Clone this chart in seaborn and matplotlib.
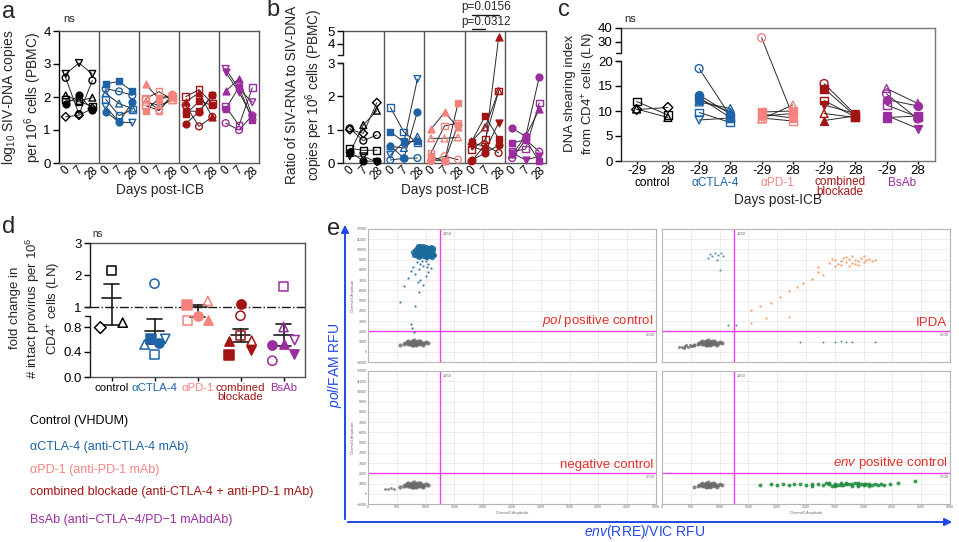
import numpy as np
import pandas as pd
import matplotlib
matplotlib.use("Agg")
import matplotlib.pyplot as plt
import seaborn as sns
from matplotlib.transforms import blended_transform_factory
from matplotlib.patches import FancyArrowPatch

sns.set_theme(style="ticks")
plt.rcParams["font.family"] = ["Liberation Sans", "DejaVu Sans"]
plt.rcParams.update({
    "mathtext.fontset": "custom",
    "mathtext.rm": "Liberation Sans",
    "mathtext.it": "Liberation Sans:italic",
    "mathtext.bf": "Liberation Sans:bold",
    "axes.linewidth": 1.0,
    "axes.edgecolor": "black",
    "xtick.color": "black",
    "ytick.color": "black",
})

# ---------------------------------------------------------------- data
GROUPS = ["control", "αCTLA-4", "αPD-1", "combined\nblockade", "BsAb"]
GROUP_COLORS = ["#000000", "#1d63a6", "#f4837d", "#a31414", "#9b2d9f"]
DAY_LABELS = ["0", "7", "28"]
DAY_LABELS_C = ["-29", "28"]

# panel a : log10 SIV-DNA copies (days 0, 7, 28)
A_MARKERS = [
    ["v_o", "o_o", "^_o", "s_o", "o_f", "D_o"],
    ["s_f", "o_o", "^_o", "s_o", "v_o", "o_f"],
    ["^_f", "o_o", "s_o", "s_o", "s_f", "^_o"],
    ["s_o", "^_f", "s_f", "s_f", "o_f", "o_o"],
    ["v_o", "v_f", "^_f", "s_o", "s_f", "o_o"],
]
A_VALUES = [
    [[2.70, 3.03, 2.70], [2.58, 1.48, 2.50], [2.05, 1.88, 1.98], [1.92, 1.86, 1.72], [1.78, 2.05, 1.62], [1.40, 1.45, 1.65]],
    [[2.40, 2.47, 2.17], [2.25, 2.17, 2.05], [2.11, 1.80, 1.65], [1.93, 1.44, 1.62], [1.71, 1.24, 1.22], [1.56, 1.24, 1.84]],
    [[2.38, 1.95, 2.00], [1.92, 1.60, 2.07], [1.95, 2.16, 1.92], [1.74, 1.59, 2.02], [1.57, 1.97, 2.05], [1.85, 1.75, 1.90]],
    [[2.01, 2.22, 1.80], [1.85, 2.13, 1.39], [1.57, 1.57, 2.05], [1.47, 1.87, 1.75], [1.19, 1.55, 2.05], [1.75, 1.11, 1.40]],
    [[2.85, 2.25, 1.84], [2.75, 2.15, 1.38], [2.17, 2.56, 1.42], [1.71, 1.14, 2.28], [1.64, 2.30, 1.30], [1.21, 1.00, 1.44]],
]

# panel b : ratio SIV-RNA / SIV-DNA (days 0, 7, 28)
B_MARKERS = [
    ["D_o", "^_o", "o_o", "s_o", "v_o", "o_f"],
    ["s_o", "s_f", "o_f", "v_o", "o_o", "^_o"],
    ["^_f", "^_o", "s_o", "s_f", "o_o", "o_f"],
    ["^_f", "s_o", "s_f", "^_o", "o_f", "o_o", "v_f"],
    ["o_f", "s_f", "s_o", "^_f", "o_o", "v_f"],
]
B_VALUES = [
    [[1.00, 0.89, 1.81], [0.30, 1.14, 1.57], [1.04, 0.67, 0.84], [0.44, 0.38, 0.38], [0.21, 0.20, 0.03], [0.34, 0.06, 0.05]],
    [[1.67, 0.93, 0.60], [0.94, 0.63, 0.65], [0.52, 0.14, 1.54], [0.24, 0.63, 2.52], [0.09, 0.14, 0.15], [0.50, 0.45, 0.79]],
    [[1.01, 1.52, 1.07], [0.74, 0.74, 0.77], [0.30, 1.11, 1.20], [0.20, 0.05, 1.80], [0.06, 0.20, 0.10], [0.10, 0.05, 1.15]],
    [[0.60, 0.50, 4.50], [0.40, 0.70, 2.16], [0.64, 1.41, 0.73], [0.65, 1.07, 2.16], [0.08, 0.30, 0.53], [0.05, 0.55, 0.30], [0.50, 0.36, 1.21]],
    [[1.04, 0.80, 2.58], [0.60, 0.70, 0.05], [0.34, 0.42, 1.80], [0.26, 0.80, 1.61], [0.15, 0.70, 0.34], [0.30, 0.09, 0.20]],
]
B_PVALUES = ["p=0.0156", "p=0.0312"]

# panel c : DNA shearing index (days -29, 28)
C_MARKERS = [
    ["s_o", "^_o", "D_o"],
    ["o_o", "o_f", "s_f", "^_f", "^_o", "s_o", "v_o"],
    ["o_o", "s_f", "^_f", "^_o", "o_f", "s_o"],
    ["o_o", "s_f", "s_o", "v_f", "^_o", "^_f"],
    ["^_o", "o_o", "o_f", "s_o", "v_f", "s_f"],
]
C_VALUES = [
    [[11.9, 9.2], [10.4, 8.7], [10.3, 10.7]],
    [[18.5, 9.0], [13.2, 9.4], [12.7, 8.7], [12.3, 9.8], [11.8, 10.5], [9.7, 7.7], [8.2, 8.6]],
    [[33.0, 9.0], [9.8, 10.0], [9.4, 8.6], [8.4, 11.2], [9.0, 9.5], [8.6, 8.0]],
    [[15.5, 9.3], [14.5, 9.0], [12.1, 8.8], [11.2, 9.5], [9.5, 8.7], [8.1, 9.0]],
    [[14.5, 11.5], [13.4, 8.4], [12.3, 11.0], [11.2, 8.8], [9.1, 6.5], [8.7, 9.0]],
]

# panel d : fold change in intact provirus
D_MARKERS = [
    ["s_o", "D_o", "^_o"],
    ["o_o", "s_f", "o_f", "^_o", "v_o", "s_o"],
    ["s_f", "^_o", "o_f", "^_f", "s_o"],
    ["o_f", "o_o", "s_o", "^_f", "^_o", "v_f", "s_f"],
    ["s_o", "^_o", "^_f", "v_o", "o_f", "v_f", "o_o"],
]
D_VALUES = [
    [2.15, 0.79, 0.87],
    [1.73, 0.61, 0.55, 0.52, 0.61, 0.36],
    [1.05, 1.19, 0.98, 0.91, 0.90],
    [1.08, 0.98, 0.66, 0.58, 0.58, 0.43, 0.36],
    [1.63, 0.80, 0.53, 0.59, 0.51, 0.37, 0.26],
]
# horizontal dodge of the scatter points (layout only)
D_DODGE = [
    [0, -0.26, 0.26],
    [0, -0.08, 0.10, -0.23, 0.25, 0],
    [-0.24, 0.24, 0, 0.25, -0.24],
    [0, 0, 0, -0.26, 0.26, 0.25, -0.26],
    [0, 0, 0, 0.26, -0.26, 0.25, -0.26],
]

LEGEND_TEXT = [
    "Control (VHDUM)",
    "αCTLA-4 (anti-CTLA-4 mAb)",
    "αPD-1 (anti-PD-1 mAb)",
    "combined blockade (anti-CTLA-4 + anti-PD-1 mAb)",
    "BsAb (anti\u2212CTLA\u22124/PD\u22121 mAbdAb)",
]

# panel e : ddPCR droplets (Channel2 amplitude, Channel1 amplitude)
POLPOS_FAM = [(820, 9900), (850, 10100), (880, 9800), (900, 10000), (920, 10200), (940, 9700), (960, 9900),
              (980, 10100), (1000, 9800), (1020, 9600), (1040, 9900), (1060, 9700), (1080, 9500), (1100, 9800),
              (1120, 9600), (870, 9600), (910, 9500), (950, 9400), (990, 9500), (1030, 9300), (1070, 9400),
              (1110, 9300), (840, 9700), (860, 10300), (900, 10350), (960, 10300), (1000, 10200), (1040, 10100),
              (1080, 10000), (1130, 9900), (930, 9900), (970, 9650), (1010, 10000), (1050, 9500), (890, 9300),
              (1000, 9250), (780, 9800), (800, 9500), (1150, 9500), (1090, 10200), (950, 10000), (1000, 9600),
              (900, 9700), (1060, 10000), (1120, 10100), (850, 9400)]
POLPOS_TAIL = [(850, 8800), (900, 8600), (1000, 8900), (780, 8300), (880, 8100), (950, 8400), (1050, 8600),
               (700, 7200), (820, 7600), (900, 7000), (1000, 7400), (860, 6800), (950, 6500), (1050, 7800),
               (620, 6400), (560, 4900), (820, 4500), (880, 5800), (750, 2700), (760, 2300), (800, 1950),
               (740, 7900), (1100, 8200), (940, 8900), (1020, 8300)]
NEG_CLUSTER = [(620, 800), (650, 900), (680, 1000), (700, 750), (720, 850), (740, 950), (760, 1050), (780, 700),
               (800, 800), (820, 900), (840, 1000), (860, 750), (880, 850), (900, 950), (920, 800), (940, 900),
               (960, 700), (980, 850), (700, 1100), (760, 650), (840, 650), (900, 1100), (1000, 950), (560, 700),
               (1050, 900), (800, 1150), (730, 780), (790, 950), (850, 880), (870, 1050), (760, 880), (830, 780)]
IPDA_GRAY_TAIL = [(300, 450), (350, 500), (400, 550), (450, 500), (500, 600), (550, 650), (380, 400), (480, 700),
                  (420, 620), (520, 520)]
IPDA_FAM = [(830, 9600), (870, 9400), (920, 9700), (970, 9500), (1020, 9650), (1060, 9400), (800, 9200),
            (950, 9000), (1000, 8000), (1150, 2600), (1280, 2600)]
IPDA_DOUBLE = [(2900, 8700), (3000, 9000), (3050, 8600), (3100, 8900), (3150, 9200), (3200, 8800), (3250, 9100),
               (3300, 8700), (3350, 9000), (3400, 8900), (3450, 9200), (3500, 8800), (3550, 9000), (3600, 9100),
               (3650, 8900), (3700, 9000), (3200, 9300), (3300, 9350), (3100, 8500), (3000, 8400), (3400, 8500),
               (3500, 9350), (3250, 8400), (2950, 9100), (3350, 8600), (2700, 7800), (2600, 7100), (2450, 6700),
               (2350, 6300), (2200, 5900), (2050, 5400), (1900, 4800), (1700, 4500), (1550, 4100), (1800, 3300),
               (2200, 3400), (1550, 2800), (2700, 8300), (2800, 7500)]
IPDA_VIC = [(2400, 950), (2800, 1000), (3000, 980), (3100, 1050), (3200, 950), (3300, 1000), (3700, 1000)]
ENVPOS_VIC = [(1700, 900), (1900, 950), (2000, 850), (2100, 1000), (2200, 900), (2300, 950), (2400, 1000),
              (2500, 900), (2600, 950), (2700, 1000), (2800, 850), (2850, 1050), (2900, 950), (2950, 800),
              (3000, 1000), (3050, 900), (3100, 1050), (3150, 850), (3200, 950), (3250, 1000), (3300, 800),
              (3350, 1050), (3400, 900), (3450, 1000), (3500, 850), (3550, 950), (3600, 1000), (3650, 900),
              (3700, 950), (3750, 850), (3800, 1000), (3850, 900), (3950, 950), (4100, 1100), (4400, 1200),
              (2600, 800), (3000, 750), (3400, 750), (3200, 1100), (2900, 1100), (3600, 800), (3100, 900),
              (3300, 920), (3500, 1000), (3000, 880), (3400, 1080)]

# ---------------------------------------------------------------- helpers
W, H = 959, 542
fig = plt.figure(figsize=(W / 100, H / 100), dpi=100)


def px_axes(x0, y0, x1, y1):
    return fig.add_axes([x0 / W, 1 - y1 / H, (x1 - x0) / W, (y1 - y0) / H])


def ftext(x, y, s, **kw):
    fig.text(x / W, 1 - y / H, s, **kw)


def scatter_marker(ax, xs, ys, code, color, size, lw=1.0):
    m, f = code.split("_")
    s = size * (0.8 if m == "D" else 1.0)
    if f == "f":
        sns.scatterplot(x=xs, y=ys, ax=ax, marker=m, s=s, color=color, edgecolor=color,
                        linewidth=lw, zorder=4, legend=False, clip_on=False)
    else:
        sns.scatterplot(x=xs, y=ys, ax=ax, marker=m, s=s, facecolor="none", edgecolor=color,
                        linewidth=lw, zorder=4, legend=False, clip_on=False)


def broken_scale(ax, kv, kp):
    kv = np.asarray(kv, float)
    kp = np.asarray(kp, float)
    s0 = (kp[1] - kp[0]) / (kv[1] - kv[0])
    s1 = (kp[-1] - kp[-2]) / (kv[-1] - kv[-2])
    kv2 = np.concatenate([[kv[0] - 1e4], kv, [kv[-1] + 1e4]])
    kp2 = np.concatenate([[kp[0] - 1e4 * s0], kp, [kp[-1] + 1e4 * s1]])
    ax.set_yscale("function", functions=(lambda v: np.interp(v, kv2, kp2),
                                         lambda p: np.interp(p, kp2, kv2)))


def broken_left_spine(ax, lo_top, hi_bot, ymin, ymax, width_px):
    ax.spines["left"].set_visible(False)
    tr = blended_transform_factory(ax.transAxes, ax.transData)
    cap = 5.0 / width_px
    ax.plot([0, 0], [ymin, lo_top], transform=tr, color="k", lw=1, clip_on=False, zorder=5)
    ax.plot([0, 0], [hi_bot, ymax], transform=tr, color="k", lw=1, clip_on=False, zorder=5)
    ax.plot([-cap, 0], [lo_top, lo_top], transform=tr, color="k", lw=1, clip_on=False, zorder=5)
    ax.plot([-cap, 0], [hi_bot, hi_bot], transform=tr, color="k", lw=1, clip_on=False, zorder=5)


def style_box(ax, edge="#555555"):
    for k in ["top", "right", "bottom"]:
        ax.spines[k].set_color(edge)
        ax.spines[k].set_linewidth(1.0)
    ax.spines["left"].set_color("black")
    ax.tick_params(axis="y", direction="out", length=4, width=1, labelsize=9.5, pad=2)
    ax.set_xlabel("")
    ax.set_ylabel("")


def draw_days(ax, values, markers, size):
    rows = []
    for g, gv in enumerate(values):
        for a, v in enumerate(gv):
            for k, y in enumerate(v):
                rows.append(dict(uid=f"{g}-{a}", x=3 * g + 0.5 + k, y=y))
    df = pd.DataFrame(rows)
    sns.lineplot(data=df, x="x", y="y", units="uid", estimator=None, color="#2a2a2a",
                 lw=0.7, ax=ax, legend=False, sort=False, zorder=3)
    for g, gv in enumerate(values):
        for a, v in enumerate(gv):
            xs = [3 * g + 0.5 + k for k in range(len(v))]
            scatter_marker(ax, xs, v, markers[g][a], GROUP_COLORS[g], size)
    ax.set_xlim(0, 15)
    for d in [3, 6, 9, 12]:
        ax.axvline(d, color="#555555", lw=1, zorder=2)
    ax.set_xticks([3 * g + 0.5 + k for g in range(5) for k in range(3)])
    ax.set_xticklabels(DAY_LABELS * 5, rotation=45, fontsize=8.5)
    ax.tick_params(axis="x", length=0, pad=1)


# ---------------------------------------------------------------- panel a
axa = px_axes(59, 31, 259, 163)
draw_days(axa, A_VALUES, A_MARKERS, 24)
axa.set_ylim(0, 4)
axa.set_yticks([0, 1, 2, 3, 4])
style_box(axa)
for lab in axa.get_xticklabels():
    lab.set_ha("center")

# ---------------------------------------------------------------- panel b
axb = px_axes(343, 31, 546, 163)
broken_scale(axb, [0, 3, 3.15, 5], [0, 100, 108, 132])
draw_days(axb, B_VALUES, B_MARKERS, 24)
axb.set_ylim(0, 5)
axb.set_yticks([0, 1, 2, 3, 4, 5])
axb.set_yticklabels(["0", "1", "2", "3", "4", "5"])
style_box(axb)
for lab in axb.get_xticklabels():
    lab.set_ha("center")
broken_left_spine(axb, 3.0, 3.15, 0, 5, 203)
trb = blended_transform_factory(axb.transData, axb.transAxes)
axb.plot([9.5, 11.5], [1.121, 1.121], transform=trb, color="k", lw=1, clip_on=False)
axb.plot([9.5, 10.5], [1.015, 1.015], transform=trb, color="k", lw=1, clip_on=False)
axb.text(10.6, 1.185, B_PVALUES[0], transform=trb, ha="center", va="center", fontsize=8.5)
axb.text(10.6, 1.07, B_PVALUES[1], transform=trb, ha="center", va="center", fontsize=8.5)

# ---------------------------------------------------------------- panel c
axc = px_axes(621, 28, 935, 161)
broken_scale(axc, [0, 20, 22, 40], [0, 100, 108, 133])
rows = []
for g, gv in enumerate(C_VALUES):
    for a, v in enumerate(gv):
        for k, y in enumerate(v):
            rows.append(dict(uid=f"{g}-{a}", x=2 * g + k, y=y))
dfc = pd.DataFrame(rows)
sns.lineplot(data=dfc, x="x", y="y", units="uid", estimator=None, color="#2a2a2a",
             lw=0.7, ax=axc, legend=False, sort=False, zorder=3)
for g, gv in enumerate(C_VALUES):
    for a, v in enumerate(gv):
        scatter_marker(axc, [2 * g, 2 * g + 1], v, C_MARKERS[g][a], GROUP_COLORS[g], 32)
axc.set_xlim(-0.5, 9.55)
axc.set_ylim(0, 40)
axc.set_yticks([0, 5, 10, 15, 20, 30, 40])
axc.set_yticklabels(["0", "5", "10", "15", "20", "30", "40"])
axc.set_xticks(range(10))
axc.set_xticklabels(DAY_LABELS_C * 5, fontsize=9.5)
style_box(axc, edge="#777777")
axc.tick_params(axis="x", direction="out", length=2.5, width=1, pad=0.5, labelsize=9.5)
broken_left_spine(axc, 20, 22, 0, 40, 314)
trc = blended_transform_factory(axc.transData, axc.transAxes)
for g, name in enumerate(GROUPS):
    ypx = 21.5 if "\n" not in name else 26.0
    axc.text(2 * g + 0.5, -ypx / 133, name, transform=trc, ha="center", va="center",
             fontsize=8.5, color=GROUP_COLORS[g], linespacing=0.88)

# ---------------------------------------------------------------- panel d
axd = px_axes(90, 243, 305, 377)
broken_scale(axd, [0, 0.98, 1.0, 3], [0, 61.25, 70, 134])
for g, gv in enumerate(D_VALUES):
    vals = np.asarray(gv)
    m = vals.mean()
    sem = vals.std(ddof=1) / np.sqrt(len(vals))
    axd.plot([g - 0.22, g + 0.22], [m, m], color="k", lw=1.2, zorder=3)
    axd.plot([g - 0.17, g + 0.17], [m + sem, m + sem], color="k", lw=1.2, zorder=3)
    axd.plot([g - 0.17, g + 0.17], [m - sem, m - sem], color="k", lw=1.2, zorder=3)
    axd.plot([g, g], [m - sem, m + sem], color="k", lw=1.2, zorder=3)
    for a, v in enumerate(gv):
        scatter_marker(axd, [g + D_DODGE[g][a]], [v], D_MARKERS[g][a], GROUP_COLORS[g], 44, lw=1.1)
axd.axhline(1.0, color="k", lw=1, ls="-.", zorder=2)
axd.set_xlim(-0.5, 4.5)
axd.set_ylim(0, 3)
axd.set_yticks([0, 0.4, 0.8, 1, 2, 3])
axd.set_yticklabels(["0.0", "0.4", "0.8", "1", "2", "3"])
axd.set_xticks(range(5))
axd.set_xticklabels(GROUPS, fontsize=8.2, linespacing=0.9)
for g, lab in enumerate(axd.get_xticklabels()):
    lab.set_color(GROUP_COLORS[g])
style_box(axd, edge="#555555")
axd.tick_params(axis="x", direction="out", length=3, width=1, pad=1.5)
broken_left_spine(axd, 0.98, 1.0, 0, 3, 215)

# ---------------------------------------------------------------- panel e
E_BOXES = [(368, 229, 656, 362), (662, 229, 950, 362), (368, 371, 656, 504), (662, 371, 950, 504)]
E_TITLES = [r"$\it{pol}$ positive control", "IPDA", "negative control", r"$\it{env}$ positive control"]
BLUE_D, GRAY_D, ORANGE_D, GREEN_D = "#1b6a9c", "#6a6a6a", "#f59a5e", "#1a8a3c"


def droplets(ax, pts, color, s, alpha=0.85):
    arr = np.asarray(pts, float)
    sns.scatterplot(x=arr[:, 0], y=arr[:, 1], ax=ax, s=s, color=color, linewidth=0,
                    alpha=alpha, legend=False, zorder=3)


for i, box in enumerate(E_BOXES):
    ax = px_axes(*box)
    ax.set_xlim(0, 5000)
    ax.set_ylim(-1000, 12000)
    ax.set_xticks(np.arange(0, 5001, 500))
    ax.set_yticks(np.arange(-1000, 12001, 1000))
    ax.grid(True, color="#e6e6e6", lw=0.5)
    ax.tick_params(labelsize=2.6, length=0, pad=1, colors="#666666")
    for sp in ax.spines.values():
        sp.set_color("#b5b5b5")
        sp.set_linewidth(0.8)
    if i in (0, 2):
        ax.set_ylabel("Channel1 Amplitude", fontsize=2.6, color="#666666", labelpad=1)
    else:
        ax.set_yticklabels([])
    if i in (2, 3):
        ax.set_xlabel("Channel2 Amplitude", fontsize=2.6, color="#666666", labelpad=1)
    else:
        ax.set_xticklabels([])
    ax.axvline(1250, color="#f23cf0", lw=1, zorder=2)
    ax.axhline(2000, color="#f23cf0", lw=1, zorder=2)
    ax.text(1290, 11500, "1250", fontsize=3, color="#666666", va="center")
    ax.text(4980, 1650, "2000", fontsize=3, color="#666666", ha="right", va="center")
    ax.text(4950, 2250, E_TITLES[i], fontsize=9.5, color="#e3302a", ha="right", va="bottom")
    if i == 0:
        droplets(ax, NEG_CLUSTER, GRAY_D, 9, 0.8)
        droplets(ax, POLPOS_TAIL, BLUE_D, 2.5)
        droplets(ax, POLPOS_FAM, BLUE_D, 14, 0.9)
    elif i == 1:
        droplets(ax, NEG_CLUSTER, GRAY_D, 9, 0.8)
        droplets(ax, IPDA_GRAY_TAIL, GRAY_D, 5, 0.8)
        droplets(ax, IPDA_FAM, "#4a8bb5", 2.5)
        droplets(ax, IPDA_DOUBLE, ORANGE_D, 3)
        droplets(ax, IPDA_VIC, GREEN_D, 1.8)
    elif i == 2:
        droplets(ax, NEG_CLUSTER, GRAY_D, 10, 0.8)
        droplets(ax, IPDA_GRAY_TAIL[:4], GRAY_D, 4, 0.8)
    else:
        droplets(ax, NEG_CLUSTER, GRAY_D, 8, 0.8)
        droplets(ax, ENVPOS_VIC, GREEN_D, 8, 0.85)

ARROW_BLUE = "#2048e8"
fig.patches.append(FancyArrowPatch((345 / W, 1 - 522 / H), (345 / W, 1 - 222 / H), transform=fig.transFigure,
                                   arrowstyle="-|>", mutation_scale=11, color=ARROW_BLUE, lw=1.4))
fig.patches.append(FancyArrowPatch((345 / W, 1 - 522 / H), (955 / W, 1 - 522 / H), transform=fig.transFigure,
                                   arrowstyle="-|>", mutation_scale=11, color=ARROW_BLUE, lw=1.4))
ftext(335, 365, r"$\it{pol}$/FAM RFU", rotation=90, ha="center", va="center", fontsize=10, color=ARROW_BLUE)
ftext(645, 532, r"$\it{env}$(RRE)/VIC RFU", ha="center", va="center", fontsize=10, color=ARROW_BLUE)

# ---------------------------------------------------------------- texts
for lab, (x, y) in zip("abcde", [(9, 12), (273, 10), (564, 10), (9, 227), (334, 229)]):
    ftext(x, y, lab, fontsize=17, ha="center", va="center")
ftext(63, 22, "ns", fontsize=8)
ftext(624, 22, "ns", fontsize=8)
ftext(92, 237, "ns", fontsize=7)

ftext(22, 97, "log$_{10}$ SIV-DNA copies\nper 10$^{6}$ cells (PBMC)", rotation=90,
      ha="center", va="center", fontsize=10.0, linespacing=1.25)
ftext(305, 95, "Ratio of SIV-RNA to SIV-DNA\ncopies per 10$^{6}$ cells (PBMC)", rotation=90,
      ha="center", va="center", fontsize=9.8, linespacing=1.25)
ftext(581, 93, "DNA shearing index\nfrom CD4$^{+}$ cells (LN)", rotation=90,
      ha="center", va="center", fontsize=9.5, linespacing=1.25)
ftext(36, 308, "fold change in\n# intact provirus per 10$^{6}$\nCD4$^{+}$ cells (LN)", rotation=90,
      ha="center", va="center", fontsize=9.5, linespacing=1.25)

ftext(160, 190, "Days post-ICB", ha="center", va="center", fontsize=9.8)
ftext(445, 190, "Days post-ICB", ha="center", va="center", fontsize=9.8)
ftext(778, 200, "Days post-ICB", ha="center", va="center", fontsize=9.8)

for i, (txt, y) in enumerate(zip(LEGEND_TEXT, [421, 447, 470, 492, 520])):
    ftext(30, y, txt, fontsize=9.0, color=GROUP_COLORS[i], va="center", ha="left")

fig.savefig("out.png", dpi=100)
